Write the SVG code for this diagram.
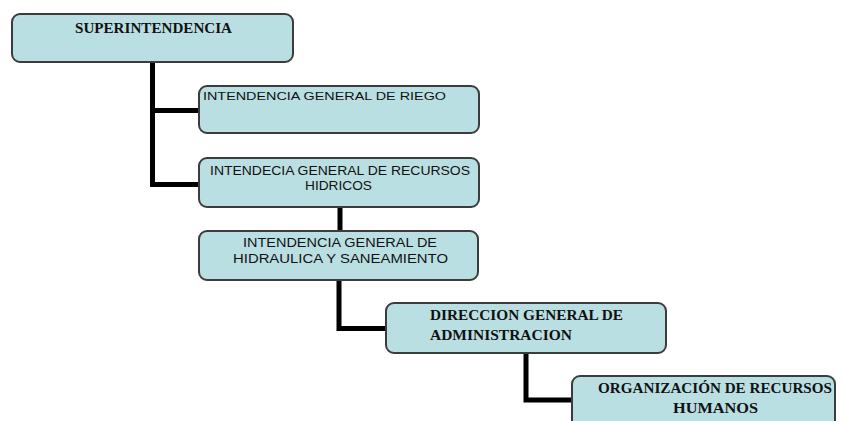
<svg xmlns="http://www.w3.org/2000/svg" width="843" height="421" viewBox="0 0 843 421">
  <style>
    .box { fill: #b9dfe2; stroke: #3c3c3c; stroke-width: 2; }
    .conn { fill: none; stroke: #000000; stroke-width: 5; stroke-linejoin: miter; }
    .serif { font-family: "Liberation Serif", "Times New Roman", serif; font-weight: bold; fill: #111111; }
    .sans { font-family: "Liberation Sans", Arial, sans-serif; fill: #111111; }
  </style>
  <rect width="843" height="421" fill="#ffffff"/>
  <g id="connectors">
    <path class="conn" d="M152.5,62 V184.5 H199"/>
    <path class="conn" d="M152.5,110.5 H199"/>
    <path class="conn" d="M340,207 V231"/>
    <path class="conn" d="M339,280 V328.5 H386"/>
    <path class="conn" d="M526,352 V400 H572"/>
  </g>
  <g id="superintendencia">
    <rect class="box" x="12" y="14" width="281" height="48" rx="8"/>
    <text class="serif" x="75" y="33" font-size="15" textLength="157" lengthAdjust="spacingAndGlyphs">SUPERINTENDENCIA</text>
  </g>
  <g id="intendencia-riego">
    <rect class="box" x="199" y="86" width="280" height="47" rx="8"/>
    <text class="sans" x="203" y="100" font-size="11" textLength="243" lengthAdjust="spacingAndGlyphs">INTENDENCIA GENERAL DE RIEGO</text>
  </g>
  <g id="intendencia-recursos-hidricos">
    <rect class="box" x="199" y="158" width="280" height="49" rx="8"/>
    <text class="sans" x="210" y="175" font-size="13" textLength="260" lengthAdjust="spacingAndGlyphs">INTENDECIA GENERAL DE RECURSOS</text>
    <text class="sans" x="305" y="190" font-size="13" textLength="67" lengthAdjust="spacingAndGlyphs">HIDRICOS</text>
  </g>
  <g id="intendencia-hidraulica">
    <rect class="box" x="199" y="231" width="279" height="49" rx="8"/>
    <text class="sans" x="243" y="247" font-size="12" textLength="194" lengthAdjust="spacingAndGlyphs">INTENDENCIA GENERAL DE</text>
    <text class="sans" x="233" y="263" font-size="12" textLength="215" lengthAdjust="spacingAndGlyphs">HIDRAULICA Y SANEAMIENTO</text>
  </g>
  <g id="direccion-administracion">
    <rect class="box" x="386" y="303" width="280" height="50" rx="8"/>
    <text class="serif" x="430" y="320" font-size="15" textLength="193" lengthAdjust="spacingAndGlyphs">DIRECCION GENERAL DE</text>
    <text class="serif" x="430" y="340" font-size="15" textLength="142" lengthAdjust="spacingAndGlyphs">ADMINISTRACION</text>
  </g>
  <g id="organizacion-recursos-humanos">
    <rect class="box" x="572" y="376" width="263" height="60" rx="8"/>
    <text class="serif" x="598" y="393" font-size="15" textLength="234" lengthAdjust="spacingAndGlyphs">ORGANIZACIÓN DE RECURSOS</text>
    <text class="serif" x="673" y="413" font-size="15" textLength="85" lengthAdjust="spacingAndGlyphs">HUMANOS</text>
  </g>
</svg>
